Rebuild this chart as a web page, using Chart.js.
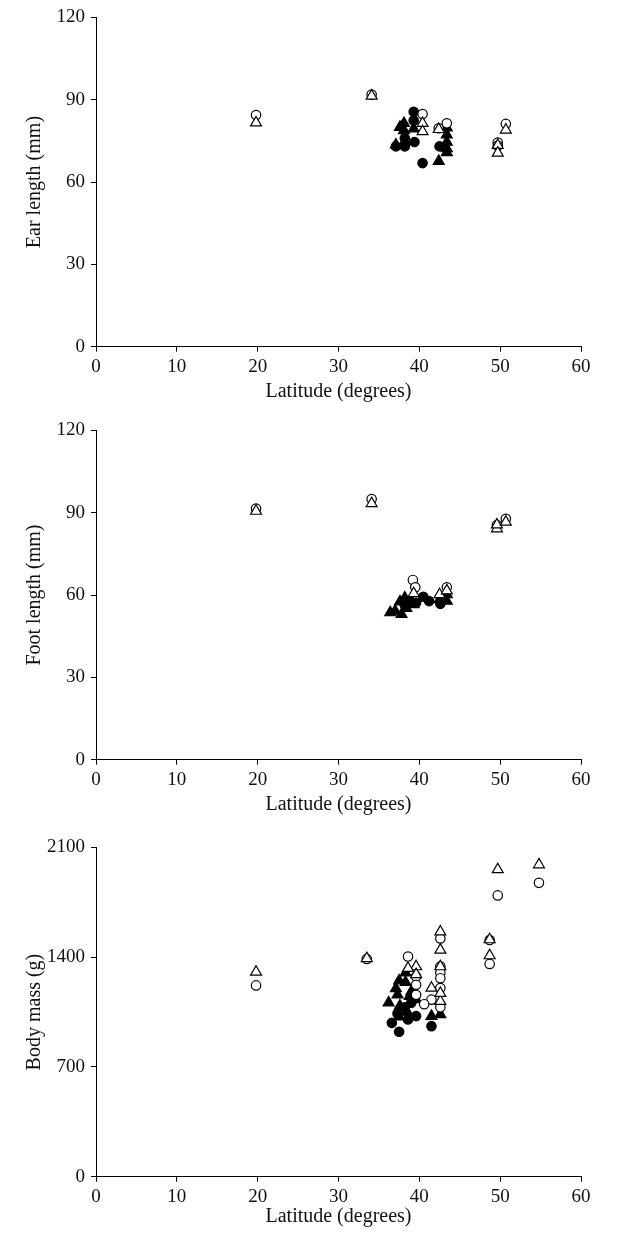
<!DOCTYPE html>
<html>
<head>
<meta charset="utf-8">
<script src="https://cdn.jsdelivr.net/npm/chart.js@4.4.1/dist/chart.umd.min.js"></script>
<style>
  html, body { margin: 0; padding: 0; background: #fff; }
  body { width: 622px; height: 1235px; position: relative; overflow: hidden; }
  canvas { position: absolute; left: 0; }
</style>
</head>
<body>
<canvas id="c1" width="622" height="410" style="top:0px"></canvas>
<canvas id="c2" width="622" height="410" style="top:413px"></canvas>
<canvas id="c3" width="622" height="405" style="top:830px"></canvas>
<script>
// ---- data: [latitude, value] ----
const earOpenCircles = [[19.8,84.4],[34.1,91.9],[40.4,84.8],[42.4,79.6],[43.4,81.4],[49.7,74.4],[49.7,73.2],[50.7,81.2]];
const earOpenTriangles = [[19.8,81.6],[34.1,91.4],[40.4,81.4],[40.4,78.4],[42.4,79.2],[49.7,73.4],[49.7,70.6],[50.7,79]];
const earFilledCircles = [[39.3,85.6],[39.3,82.4],[37.1,73],[38.2,73],[39.4,74.6],[40.4,66.9],[42.5,73],[38.2,76]];
const earFilledTriangles = [[38.1,81.4],[38.1,78.8],[37.6,80],[39.3,79.4],[37.1,73.6],[38.2,74.8],[42.4,67.6],[43.4,79.8],[43.4,77.2],[43.4,74.6],[43.4,72.2],[43.4,70.8]];

const footOpenCircles = [[19.8,91.5],[34.1,95],[39.2,65.5],[39.5,62.8],[43.4,62.8],[49.6,85.5],[50.7,87.8]];
const footOpenTriangles = [[19.8,90.6],[34.1,93.4],[39.3,60.6],[42.5,60.2],[49.6,84.2],[49.6,85.6],[50.7,86.6],[43.4,61.6]];
const footFilledCircles = [[40.5,59.4],[38.8,58],[42.6,56.8],[39.6,57.2],[41.2,57.8],[38.2,56.4]];
const footFilledTriangles = [[37,54.2],[37.8,53],[38.2,59],[38.9,57.8],[39.3,56.6],[37.6,57.6],[43.4,60.2],[43.4,57.8],[42.5,58.4],[36.4,53.6],[38.4,55.2]];

const massOpenCircles = [[19.8,1220],[33.5,1389],[38.6,1404],[39.6,1277],[39.6,1224],[41.5,1129],[42.6,1519],[42.6,1340],[42.6,1300],[42.6,1266],[42.6,1203],[42.6,1080],[48.7,1509],[48.7,1357],[49.7,1794],[54.8,1874],[39.6,1160],[40.6,1100]];
const massOpenTriangles = [[19.8,1305],[33.5,1392],[39.6,1340],[38.6,1329],[41.5,1203],[42.6,1562],[42.6,1446],[42.6,1340],[42.6,1119],[42.6,1170],[48.7,1512],[48.7,1410],[49.7,1959],[54.8,1990],[39.6,1290]];
const massFilledCircles = [[36.6,981],[37.5,924],[38.6,1003],[39.6,1024],[41.5,960],[37.3,1040],[38.2,1080],[39,1110]];
const massFilledTriangles = [[36.2,1110],[37.1,1200],[37.3,1160],[37.5,1250],[38.3,1300],[38.3,1240],[37.6,1090],[38.5,1050],[39.6,1130],[41.5,1024],[42.6,1035],[39,1180],[37.5,1020],[38.8,1150]];

const xTicks = [0, 10, 20, 30, 40, 50, 60];
const xTitle = 'Latitude (degrees)';
const panels = [
  { id: 'c1', yTitle: 'Ear length (mm)', yMax: 120, yStep: 30, sets: [earOpenTriangles, earOpenCircles, earFilledTriangles, earFilledCircles] },
  { id: 'c2', yTitle: 'Foot length (mm)', yMax: 120, yStep: 30, sets: [footOpenTriangles, footOpenCircles, footFilledTriangles, footFilledCircles] },
  { id: 'c3', yTitle: 'Body mass (g)', yMax: 2100, yStep: 700, sets: [massOpenTriangles, massOpenCircles, massFilledTriangles, massFilledCircles] }
];

const FONT = "'Liberation Serif', 'Times New Roman', serif";
const styles = [
  { pointStyle: 'triangle', radius: 6.3, bg: '#ffffff' },
  { pointStyle: 'circle', radius: 4.7, bg: '#ffffff' },
  { pointStyle: 'triangle', radius: 6.3, bg: '#000000' },
  { pointStyle: 'circle', radius: 4.7, bg: '#000000' }
];

const toPts = arr => arr.map(p => ({ x: p[0], y: p[1] }));

panels.forEach(p => {
  const canvas = document.getElementById(p.id);
  const plotH = 331.7;
  const topPad = 15;
  const xAxisH = canvas.height - topPad - plotH;
  new Chart(canvas, {
    type: 'scatter',
    data: {
      datasets: p.sets.map((s, i) => ({
        data: toPts(s),
        pointStyle: styles[i].pointStyle,
        pointRadius: styles[i].radius,
        pointHoverRadius: styles[i].radius,
        backgroundColor: styles[i].bg,
        borderColor: '#000000',
        pointBorderWidth: 1.2,
        borderWidth: 1.2
      }))
    },
    options: {
      responsive: false,
      animation: false,
      devicePixelRatio: 1,
      layout: { padding: { top: topPad, right: 41, bottom: 0, left: 0 } },
      plugins: { legend: { display: false }, tooltip: { enabled: false } },
      scales: {
        x: {
          type: 'linear',
          min: 0, max: 60,
          afterBuildTicks: s => { s.ticks = xTicks.map(v => ({ value: v })); },
          afterFit: s => { s.height = xAxisH; },
          grid: { display: true, drawOnChartArea: false, drawTicks: true, tickLength: 5, color: '#000', lineWidth: 1 },
          border: { display: true, color: '#000', width: 1 },
          ticks: { color: '#111', padding: 4, font: { family: FONT, size: 19 }, maxRotation: 0, autoSkip: false, callback: v => String(v) },
          title: { display: true, text: xTitle, color: '#111', font: { family: FONT, size: 20 }, padding: { top: 0, bottom: 6 } }
        },
        y: {
          type: 'linear',
          min: 0, max: p.yMax,
          ticks: { stepSize: p.yStep, color: '#111', padding: 6, font: { family: FONT, size: 19 }, callback: v => String(v) },
          afterFit: s => { s.width = 96; },
          grid: { display: true, drawOnChartArea: false, drawTicks: true, tickLength: 5, color: '#000', lineWidth: 1 },
          border: { display: true, color: '#000', width: 1 },
          title: { display: true, text: p.yTitle, color: '#111', font: { family: FONT, size: 20 }, padding: { top: 23, bottom: 0 } }
        }
      }
    }
  });
});
</script>
</body>
</html>
